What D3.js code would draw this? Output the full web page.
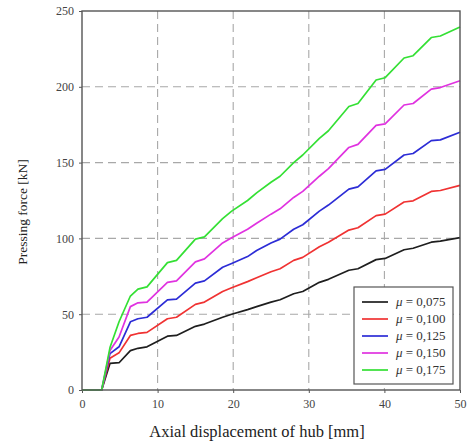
<!DOCTYPE html>
<html>
<head>
<meta charset="utf-8">
<script src="https://cdn.jsdelivr.net/npm/d3@7"></script>
<style>
  html, body { margin: 0; padding: 0; background: #fff; }
  svg { display: block; }
</style>
</head>
<body>
<svg id="chart" width="468" height="446"></svg>
<script>
// ---- data ----
const xValues = [0, 2.6, 3.7, 4.9, 6.4, 7.4, 8.6, 11.3, 12.5, 15.0, 16.2, 18.6, 19.8, 21.9, 23.1, 25.0, 26.2, 28.0, 29.2, 31.4, 32.6, 35.3, 36.5, 38.9, 40.1, 42.6, 43.8, 46.2, 47.4, 50];
const mu075 = [0, 0, 17.5, 18, 26, 27.5, 28.5, 35.5, 36, 42, 43.5, 48, 50, 53, 55, 58, 59.5, 63.5, 65, 71, 73, 79, 80, 86, 86.8, 92.5, 93.5, 97.5, 98.2, 100.5];
const mu100 = [0, 0, 21, 24.5, 36, 37.3, 38, 47, 48, 56.5, 58, 65, 67.5, 71.5, 74, 78, 80, 85.5, 87.5, 94.5, 97.5, 105.5, 107, 115, 116, 124, 124.8, 131, 131.6, 135];
const mu125 = [0, 0, 24, 28.5, 45, 47, 48, 59.5, 60, 70.5, 72, 81, 83.5, 88, 92, 97, 99.5, 106, 109, 118, 122, 132.5, 134, 144.5, 145.5, 155, 156, 164.5, 165, 170];
const mu150 = [0, 0, 26, 35, 55, 57.5, 58, 71, 72, 84.5, 86.5, 97, 100.5, 106, 110, 116, 119.5, 127, 131, 141, 146, 160, 162, 174.5, 175.5, 188, 189, 198.5, 199.5, 204];
const mu175 = [0, 0, 28, 45, 62, 66.5, 68, 84, 85.5, 99.5, 101, 113, 118, 125, 130, 137, 141, 150, 155, 166, 171, 187, 189, 204.5, 206, 219, 220.5, 232.5, 233.5, 239.5];
const seriesLabels = ["0,075", "0,100", "0,125", "0,150", "0,175"];
const seriesColors = ["#1e1e1e", "#f03232", "#2c2cd6", "#e032e0", "#34e034"];
const xTicks = [0, 10, 20, 30, 40, 50];
const yTicks = [0, 50, 100, 150, 200, 250];
const xTitle = "Axial displacement of hub [mm]";
const yTitle = "Pressing force [kN]";

const seriesValues = [mu075, mu100, mu125, mu150, mu175];

// ---- layout ----
const svg = d3.select("#chart");
const L = 82, R = 460, T = 11, B = 390;
const x = d3.scaleLinear().domain([0, 50]).range([L, R]);
const y = d3.scaleLinear().domain([0, 250]).range([B, T]);
const serif = "'Liberation Serif', 'DejaVu Serif', serif";

// grid
const g = svg.append("g");
g.selectAll(".vg").data(xTicks.slice(1, -1)).enter().append("line")
  .attr("x1", d => x(d)).attr("x2", d => x(d)).attr("y1", T).attr("y2", B)
  .attr("stroke", "#a8a8a8").attr("stroke-width", 1.1).attr("stroke-dasharray", "8,5");
g.selectAll(".hg").data(yTicks.slice(1, -1)).enter().append("line")
  .attr("y1", d => y(d)).attr("y2", d => y(d)).attr("x1", L).attr("x2", R)
  .attr("stroke", "#a8a8a8").attr("stroke-width", 1.1).attr("stroke-dasharray", "8,5");

// axes
const xAxis = d3.axisBottom(x).tickValues(xTicks).tickSize(3).tickPadding(6);
const yAxis = d3.axisLeft(y).tickValues(yTicks).tickSize(3).tickPadding(5);
const ax = svg.append("g").attr("transform", `translate(0,${B})`).call(xAxis);
const ay = svg.append("g").attr("transform", `translate(${L},0)`).call(yAxis);
[ax, ay].forEach(a => {
  a.select(".domain").remove();
  a.selectAll("line").attr("stroke", "#555");
  a.selectAll("text").attr("font-family", serif).attr("font-size", 12).attr("fill", "#444");
});

// lines
const line = d3.line().x((d, i) => x(xValues[i])).y(d => y(d));
seriesValues.forEach((vals, k) => {
  svg.append("path").datum(vals)
    .attr("d", line)
    .attr("fill", "none")
    .attr("stroke", seriesColors[k])
    .attr("stroke-width", 1.7)
    .attr("stroke-linejoin", "round");
});

// frame
svg.append("rect").attr("x", L).attr("y", T).attr("width", R - L).attr("height", B - T)
  .attr("fill", "none").attr("stroke", "#555").attr("stroke-width", 1.4);

// titles
svg.append("text").attr("x", 257).attr("y", 437)
  .attr("text-anchor", "middle").attr("font-family", serif).attr("font-size", 16.5)
  .attr("fill", "#222").text(xTitle);
svg.append("text").attr("transform", `translate(27,${212}) rotate(-90)`)
  .attr("text-anchor", "middle").attr("font-family", serif).attr("font-size", 13.5)
  .attr("fill", "#222").text(yTitle);

// legend
const lg = svg.append("g");
lg.append("rect").attr("x", 354).attr("y", 287).attr("width", 99).attr("height", 97)
  .attr("fill", "#fff").attr("stroke", "#555").attr("stroke-width", 1.2);
seriesLabels.forEach((lab, k) => {
  const yy = 302 + k * 17;
  lg.append("line").attr("x1", 362).attr("x2", 388).attr("y1", yy).attr("y2", yy)
    .attr("stroke", seriesColors[k]).attr("stroke-width", 1.7);
  const t = lg.append("text").attr("x", 396).attr("y", yy + 4)
    .attr("font-family", serif).attr("font-size", 13).attr("fill", "#333");
  t.append("tspan").attr("font-style", "italic").text("\u03BC");
  t.append("tspan").text(" = " + lab);
});
</script>
</body>
</html>
